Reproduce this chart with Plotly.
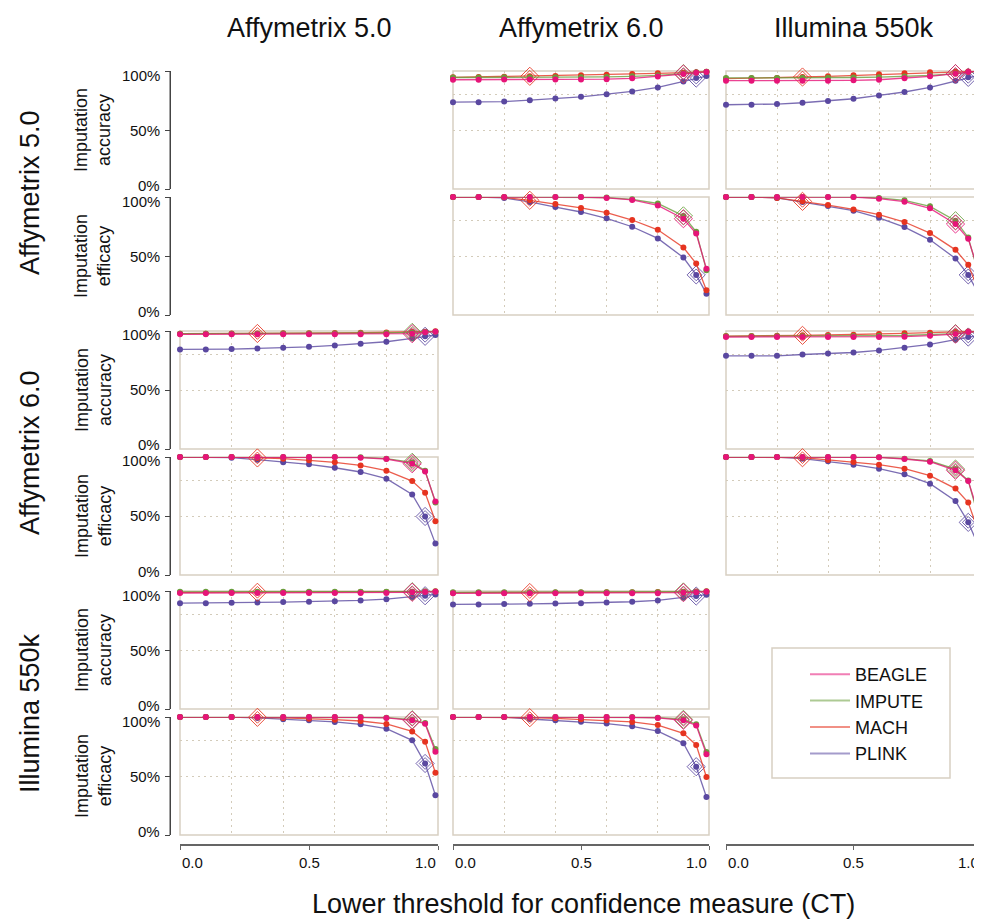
import plotly.graph_objects as go

# ---------------- data ----------------
CT = [0.0, 0.1, 0.2, 0.3, 0.4, 0.5, 0.6, 0.7, 0.8, 0.9, 0.95, 0.99]
METHODS = ["BEAGLE", "IMPUTE", "MACH", "PLINK"]
DEFAULT_CT = {"BEAGLE": 0.9, "IMPUTE": 0.9, "MACH": 0.3, "PLINK": 0.95}
PLATFORMS = ["Affymetrix 5.0", "Affymetrix 6.0", "Illumina 550k"]
X_TICKS = [0.0, 0.5, 1.0]
X_TICKTEXT = ["0.0", "0.5", "1.0"]
Y_TICKS = [0, 50, 100]
Y_TICKTEXT = ["0%", "50%", "100%"]

# Row Affymetrix 5.0, column Affymetrix 6.0
acc_A5_A6_BEAGLE = [92.6, 92.6, 92.7, 92.7, 92.8, 92.9, 93.1, 93.8, 95.3, 97.4, 98.6, 99.2]
acc_A5_A6_IMPUTE = [94.5, 94.5, 94.6, 94.6, 94.7, 94.8, 95.0, 95.5, 96.3, 97.8, 98.8, 99.3]
acc_A5_A6_MACH = [94.6, 95.0, 95.2, 95.5, 95.8, 96.3, 96.9, 97.4, 98.0, 98.6, 99.0, 99.4]
acc_A5_A6_PLINK = [73.6, 73.6, 74.1, 75.3, 76.7, 78.1, 80.4, 82.7, 86.1, 91.2, 94.0, 95.7]
eff_A5_A6_BEAGLE = [100, 100, 100, 100, 100, 100, 99.2, 97.5, 92.9, 81.6, 69.1, 39.1]
eff_A5_A6_IMPUTE = [100, 100, 100, 100, 100, 100, 99.5, 98.0, 94.5, 84.0, 70.5, 38.0]
eff_A5_A6_MACH = [100, 100, 99.7, 97.2, 94.1, 90.7, 86.7, 80.5, 72.2, 57.2, 43.6, 21.0]
eff_A5_A6_PLINK = [100, 100, 99.2, 95.8, 91.5, 87.3, 81.9, 74.8, 64.9, 48.7, 34.0, 18.1]

# Row Affymetrix 5.0, column Illumina 550k
acc_A5_IL_BEAGLE = [91.8, 91.8, 91.8, 91.8, 91.8, 92.1, 92.6, 93.8, 95.5, 97.7, 99.1, 99.8]
acc_A5_IL_IMPUTE = [94.1, 94.1, 94.1, 94.2, 94.3, 94.5, 94.8, 95.3, 96.2, 97.8, 99.0, 99.6]
acc_A5_IL_MACH = [93.5, 93.8, 94.1, 94.9, 95.5, 96.3, 97.2, 98.0, 98.9, 99.4, 99.6, 99.8]
acc_A5_IL_PLINK = [71.4, 71.4, 72.0, 73.1, 74.5, 76.5, 79.3, 82.2, 86.1, 91.8, 94.6, 96.3]
eff_A5_IL_BEAGLE = [100, 100, 100, 100, 100, 100, 98.6, 96.0, 90.4, 77.1, 64.6, 37.4]
eff_A5_IL_IMPUTE = [100, 100, 100, 100, 100, 100, 99.2, 97.2, 92.1, 79.9, 65.7, 35.1]
eff_A5_IL_MACH = [100, 100, 99.2, 96.3, 93.2, 89.5, 85.0, 78.8, 69.4, 55.2, 42.5, 21.0]
eff_A5_IL_PLINK = [100, 100, 99.2, 95.8, 92.4, 88.4, 82.4, 74.5, 63.7, 47.9, 34.0, 18.1]

# Row Affymetrix 6.0, column Affymetrix 5.0
acc_A6_A5_BEAGLE = [97.2, 97.2, 97.2, 97.2, 97.2, 97.2, 97.2, 97.2, 97.3, 97.7, 98.9, 99.4]
acc_A6_A5_IMPUTE = [97.7, 97.7, 97.7, 97.7, 97.8, 97.8, 97.9, 98.0, 98.3, 98.8, 99.2, 99.4]
acc_A6_A5_MACH = [97.7, 97.7, 97.8, 97.9, 98.0, 98.1, 98.3, 98.5, 98.8, 99.1, 99.4, 99.7]
acc_A6_A5_PLINK = [84.4, 84.4, 84.7, 85.2, 85.8, 86.6, 87.8, 89.2, 90.9, 93.8, 95.5, 96.6]
eff_A6_A5_BEAGLE = [100, 100, 100, 100, 100, 100, 100, 99.4, 98.3, 94.3, 87.8, 62.3]
eff_A6_A5_IMPUTE = [100, 100, 100, 100, 100, 100, 100, 99.7, 98.6, 95.5, 88.4, 61.5]
eff_A6_A5_MACH = [100, 100, 100, 99.2, 98.6, 97.2, 95.5, 92.9, 88.4, 79.6, 69.7, 45.6]
eff_A6_A5_PLINK = [100, 100, 99.4, 97.7, 95.5, 93.8, 90.9, 87.3, 81.6, 68.3, 49.6, 26.6]

# Row Affymetrix 6.0, column Illumina 550k
acc_A6_IL_BEAGLE = [94.9, 94.9, 94.9, 94.9, 94.9, 94.9, 94.9, 95.2, 96.0, 97.4, 99.1, 99.4]
acc_A6_IL_IMPUTE = [95.5, 95.5, 95.5, 95.6, 95.7, 95.8, 96.0, 96.2, 96.8, 97.8, 98.9, 99.4]
acc_A6_IL_MACH = [95.7, 95.7, 96.0, 96.3, 96.6, 96.9, 97.4, 98.0, 98.6, 99.1, 99.6, 99.8]
acc_A6_IL_PLINK = [79.0, 79.0, 79.0, 80.1, 81.0, 81.8, 83.5, 85.8, 88.6, 92.6, 94.9, 96.3]
eff_A6_IL_BEAGLE = [100, 100, 100, 100, 100, 100, 99.7, 98.3, 96.0, 88.7, 79.7, 52.5]
eff_A6_IL_IMPUTE = [100, 100, 100, 100, 100, 100, 99.8, 98.6, 96.6, 89.8, 80.0, 48.9]
eff_A6_IL_MACH = [100, 100, 100, 99.4, 97.5, 95.8, 93.5, 90.1, 84.2, 73.2, 61.4, 36.7]
eff_A6_IL_PLINK = [100, 100, 100, 98.6, 96.3, 93.5, 90.1, 85.3, 77.4, 62.7, 44.6, 24.6]

# Row Illumina 550k, column Affymetrix 5.0
acc_IL_A5_BEAGLE = [98.3, 98.3, 98.3, 98.3, 98.3, 98.3, 98.3, 98.3, 98.4, 98.9, 99.1, 99.4]
acc_IL_A5_IMPUTE = [99.3, 99.3, 99.3, 99.3, 99.3, 99.3, 99.3, 99.3, 99.4, 99.4, 99.5, 99.6]
acc_IL_A5_MACH = [98.8, 98.8, 98.8, 98.9, 98.9, 99.0, 99.0, 99.1, 99.2, 99.4, 99.5, 99.7]
acc_IL_A5_PLINK = [89.7, 89.7, 90.0, 90.3, 90.6, 90.9, 91.4, 92.0, 93.1, 94.9, 96.0, 97.1]
eff_IL_A5_BEAGLE = [100, 100, 100, 100, 100, 100, 100, 99.7, 99.2, 97.2, 94.3, 70.6]
eff_IL_A5_IMPUTE = [100, 100, 100, 100, 100, 100, 100, 100, 99.4, 97.7, 94.9, 72.8]
eff_IL_A5_MACH = [100, 100, 100, 99.7, 99.2, 98.6, 97.7, 96.6, 94.1, 87.8, 79.0, 52.7]
eff_IL_A5_PLINK = [100, 100, 100, 99.2, 98.0, 97.2, 95.8, 93.8, 90.1, 80.2, 60.6, 33.7]

# Row Illumina 550k, column Affymetrix 6.0
acc_IL_A6_BEAGLE = [98.0, 98.0, 98.0, 98.0, 98.0, 98.0, 98.0, 98.0, 98.1, 98.6, 99.0, 99.4]
acc_IL_A6_IMPUTE = [98.9, 98.9, 98.9, 98.9, 98.9, 98.9, 98.9, 99.0, 99.0, 99.2, 99.4, 99.6]
acc_IL_A6_MACH = [98.6, 98.6, 98.6, 98.7, 98.7, 98.8, 98.9, 99.0, 99.1, 99.3, 99.5, 99.7]
acc_IL_A6_PLINK = [88.6, 88.6, 88.9, 89.1, 89.4, 89.7, 90.3, 90.9, 92.0, 94.3, 95.7, 96.9]
eff_IL_A6_BEAGLE = [100, 100, 100, 100, 100, 100, 100, 99.7, 99.2, 97.2, 92.9, 68.4]
eff_IL_A6_IMPUTE = [100, 100, 100, 100, 100, 100, 100, 100, 99.4, 98.0, 93.8, 70.3]
eff_IL_A6_MACH = [100, 100, 100, 99.4, 98.9, 98.0, 97.2, 95.8, 93.2, 86.2, 76.3, 49.2]
eff_IL_A6_PLINK = [100, 100, 100, 98.3, 97.2, 96.0, 94.4, 92.1, 88.1, 77.7, 57.9, 32.2]

g = globals()
codes = ["A5", "A6", "IL"]
PANELS = []
for r in range(3):
    for c in range(3):
        if r == c:
            continue
        for metric in ["acc", "eff"]:
            series = {m: g[f"{metric}_{codes[r]}_{codes[c]}_{m}"] for m in METHODS}
            PANELS.append((r, c, metric, series))

# ---------------- styling / layout ----------------
W, H = 982, 923
OFF = 8  # page body margin of the viewer
COLORS = {"BEAGLE": (230, 20, 120), "IMPUTE": (105, 158, 60),
          "MACH": (230, 52, 32), "PLINK": (90, 72, 160)}
BOX = "#D8D0C2"
GRID = "#D3CBBA"
GRID_DASH = "2px,4px"
AXIS = "#444444"
XAXIS_COL = "#666666"
TEXT = "#111111"
FONT = "Liberation Sans, Arial, Helvetica, sans-serif"

COL_PX = [(180, 438), (453, 709), (726, 981)]
ROW_PX = {0: {"acc": (71, 189), "eff": (197, 315)},
          1: {"acc": (331, 449), "eff": (457, 575)},
          2: {"acc": (591, 709), "eff": (717, 835)}}
Y_AXIS_X = 170
X_AXIS_Y = 845


def px_x(p):
    return (p - OFF) / W


def px_y(p):
    return 1 - (p - OFF) / H


def rgba(c, a):
    return f"rgba({c[0]},{c[1]},{c[2]},{a})"


fig = go.Figure()
layout = {}
shapes = []
annotations = []

leftmost = {}
for idx, (r, c, metric, _) in enumerate(PANELS):
    key = (r, metric)
    if key not in leftmost or c < PANELS[leftmost[key]][1]:
        leftmost[key] = idx
bottom = {}
for idx, (r, c, metric, _) in enumerate(PANELS):
    if metric != "eff":
        continue
    if c not in bottom or r > PANELS[bottom[c]][0]:
        bottom[c] = idx

for idx, (r, c, metric, series) in enumerate(PANELS):
    n = idx + 1
    sfx = "" if n == 1 else str(n)
    xname, yname = "x" + sfx, "y" + sfx
    x0, x1 = COL_PX[c]
    ytop, ybot = ROW_PX[r][metric]

    xa = dict(domain=[px_x(x0), px_x(x1)], range=[0, 1], showgrid=False,
              zeroline=False, tickmode="array", tickvals=X_TICKS,
              showticklabels=False, automargin=False,
              minor=dict(tickmode="array", tickvals=[0.2, 0.4, 0.6, 0.8],
                         showgrid=True, gridcolor=GRID, griddash=GRID_DASH,
                         gridwidth=1, ticks=""))
    if bottom.get(c) == idx:
        xa.update(anchor="free", position=px_y(X_AXIS_Y), showline=True,
                  linecolor=XAXIS_COL, linewidth=1.5, ticks="outside",
                  ticklen=4, tickcolor=XAXIS_COL)
        shapes.append(dict(type="line", xref="paper", yref="paper",
                           x0=px_x(x0), x1=px_x(x1), y0=px_y(X_AXIS_Y),
                           y1=px_y(X_AXIS_Y),
                           line=dict(color=XAXIS_COL, width=1.5)))
        for v, t, anc in zip(X_TICKS, X_TICKTEXT, ["left", "center", "right"]):
            annotations.append(dict(text=t, x=v, xref=xname, y=px_y(862),
                                    yref="paper", xanchor=anc, yanchor="middle",
                                    showarrow=False,
                                    font=dict(size=15, family=FONT, color=TEXT)))
    else:
        xa.update(anchor=yname, showline=False, ticks="")

    ya = dict(domain=[px_y(ybot), px_y(ytop)], range=[0, 100], showgrid=False,
              zeroline=False, tickmode="array", tickvals=Y_TICKS,
              showticklabels=False, automargin=False,
              minor=dict(tickmode="array", tickvals=[50, 80],
                         showgrid=True, gridcolor=GRID, griddash=GRID_DASH,
                         gridwidth=1, ticks=""))
    if leftmost[(r, metric)] == idx:
        ya.update(anchor="free", position=px_x(Y_AXIS_X), showline=True,
                  linecolor=AXIS, linewidth=1, ticks="outside", ticklen=5,
                  tickcolor=AXIS)
        shapes.append(dict(type="line", xref="paper", yref="paper",
                           x0=px_x(Y_AXIS_X), x1=px_x(Y_AXIS_X),
                           y0=px_y(ybot), y1=px_y(ytop),
                           line=dict(color=AXIS, width=1)))
        for v, t in zip(Y_TICKS, Y_TICKTEXT):
            annotations.append(dict(text=t, x=px_x(162), xref="paper", y=v,
                                    yref=yname, xanchor="right", yanchor="middle",
                                    yshift=(-4 if v == 100 else (4 if v == 0 else 0)),
                                    showarrow=False,
                                    font=dict(size=15, family=FONT, color=TEXT)))
    else:
        ya.update(anchor=xname, showline=False, ticks="")

    layout["xaxis" + sfx] = xa
    layout["yaxis" + sfx] = ya

    shapes.append(dict(type="rect", xref=f"{xname} domain", yref=f"{yname} domain",
                       x0=0, x1=1, y0=0, y1=1, line=dict(color=BOX, width=1.5),
                       layer="below"))

    for m in ["PLINK", "MACH", "IMPUTE", "BEAGLE"]:
        col = COLORS[m]
        vals = series[m]
        fig.add_trace(go.Scatter(
            x=CT, y=vals, mode="lines+markers", xaxis=xname, yaxis=yname,
            line=dict(color=rgba(col, 0.8), width=1.3),
            marker=dict(color=rgba(col, 1), size=6),
            showlegend=False, cliponaxis=False, hoverinfo="skip"))
        k = CT.index(DEFAULT_CT[m])
        for sz in (14, 9):
            fig.add_trace(go.Scatter(
                x=[CT[k]], y=[vals[k]], mode="markers", xaxis=xname, yaxis=yname,
                marker=dict(symbol="diamond-open", size=sz,
                            color=rgba(col, 0.85), line=dict(width=1)),
                showlegend=False, cliponaxis=False, hoverinfo="skip"))

for m in METHODS:
    fig.add_trace(go.Scatter(x=[None], y=[None], mode="lines", name=m,
                             line=dict(color=rgba(COLORS[m], 0.55), width=2)))

shapes.append(dict(type="rect", xref="paper", yref="paper",
                   x0=px_x(772), x1=px_x(950), y0=px_y(778), y1=px_y(648),
                   line=dict(color=BOX, width=1.5), layer="below"))

TXT = dict(xref="paper", yref="paper", showarrow=False, xanchor="center",
           yanchor="middle")
col_centers = [(a + b) / 2 for a, b in COL_PX]
for c, name in enumerate(PLATFORMS):
    annotations.append(dict(text=name, x=px_x(col_centers[c]), y=px_y(28),
                            font=dict(size=27, family=FONT, color=TEXT), **TXT))
for r, name in enumerate(PLATFORMS):
    yc = (ROW_PX[r]["acc"][0] + ROW_PX[r]["eff"][1]) / 2
    annotations.append(dict(text=name, x=px_x(30), y=px_y(yc), textangle=-90,
                            font=dict(size=27, family=FONT, color=TEXT), **TXT))
    for metric, lab in [("acc", "Imputation<br>accuracy"), ("eff", "Imputation<br>efficacy")]:
        t, b = ROW_PX[r][metric]
        annotations.append(dict(text=lab, x=px_x(93), y=px_y((t + b) / 2),
                                textangle=-90,
                                font=dict(size=18, family=FONT, color=TEXT),
                                **TXT))
annotations.append(dict(text="Lower threshold for confidence measure (CT)",
                        x=px_x(583), y=px_y(904),
                        font=dict(size=27, family=FONT, color=TEXT), **TXT))

fig.update_layout(
    width=W, height=H,
    margin=dict(l=0, r=0, t=0, b=0, pad=0, autoexpand=False),
    paper_bgcolor="white", plot_bgcolor="white",
    font=dict(family=FONT, color=TEXT),
    shapes=shapes, annotations=annotations,
    legend=dict(x=px_x(805), y=px_y(656), xanchor="left", yanchor="top",
                bgcolor="rgba(0,0,0,0)", borderwidth=0,
                font=dict(size=18, family=FONT, color=TEXT),
                itemwidth=40, tracegroupgap=0),
    **layout)

fig.write_html("out.html")
